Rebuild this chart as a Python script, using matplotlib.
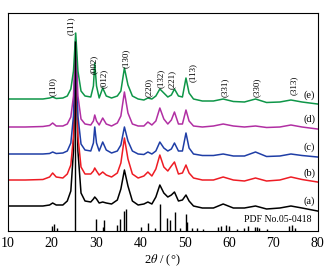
import numpy as np
import matplotlib
matplotlib.use("Agg")
import matplotlib.pyplot as plt

plt.rcParams['font.family'] = ['Liberation Serif', 'DejaVu Serif']
plt.rcParams['mathtext.fontset'] = 'stix'

# 2theta sample points shared by all patterns
two_theta = [10, 14, 18, 19.5, 20.2, 21, 22.5, 23.5, 24.3, 24.9, 25.4, 25.9, 26.6, 27.5,
             28.8, 29.4, 29.7, 30.1, 30.7, 31.5, 32.3, 33.5, 34.8, 35.6, 36.4, 37.2, 38.2,
             39.5, 40.8, 41.7, 42.6, 43.5, 44.4, 45.3, 46.2, 47.0, 47.7, 48.6, 49.5, 50.3,
             51.0, 52.0, 54.0, 56.5, 58.7, 61.0, 63.5, 66.0, 68.5, 71.5, 74.0, 76.5, 80]

# intensities (offset already included)
pat_a = [25, 25, 25, 26, 28, 26, 26, 30, 40, 80, 190, 80, 38, 30,
         29, 32, 34, 32, 28, 29, 28, 27, 31, 42, 61, 45, 30,
         26, 27, 29, 27, 34, 46, 38, 34, 36, 39, 30, 31, 36,
         30, 25, 23, 23, 27, 23, 23, 25, 22, 23, 25, 23, 20]
pat_b = [51, 51, 51.5, 54, 58, 54, 53, 57, 66, 95, 185, 95, 64, 57,
         57, 60, 63, 60, 56, 59, 56, 54, 58, 68, 93, 72, 57,
         53, 55, 59, 55, 62, 76, 64, 60, 65, 69, 57, 58, 66,
         58, 53, 51, 51, 54, 51, 50, 53, 50, 51, 54, 51.5, 49]
pat_c = [77, 77, 77, 77.5, 79, 77.5, 78, 80, 88, 115, 190, 115, 87, 81,
         80, 88, 104, 88, 80, 89, 81, 78, 80, 86, 104, 90, 80,
         77, 76.5, 79, 77, 80, 89, 83, 80, 82, 88, 80, 80, 98,
         83, 77, 75.5, 75.5, 77, 75, 75, 79, 74.5, 75, 77, 75.5, 74]
pat_d = [104, 104, 104.5, 105.5, 108, 105, 105, 107, 114, 135, 190, 135, 112, 107,
         106, 110, 116, 110, 106, 113, 107, 105, 108, 115, 139, 118, 107,
         105, 105, 109, 106, 110, 123, 112, 107, 111, 119, 107, 107, 121,
         110, 105, 104, 105, 107, 105, 104, 105, 103.5, 104, 106, 104, 102]
pat_e = [132, 132, 132, 133, 134, 132.5, 133, 135, 142, 160, 198, 160, 140, 135,
         134, 145, 168, 145, 133, 143, 135, 133, 135, 140, 163, 146, 135,
         132, 131, 133, 132, 135, 142, 138, 134, 136, 142, 135, 134, 153,
         138, 132, 130, 130, 132, 129.5, 129, 132, 128.5, 129, 131, 129, 127]

patterns = [pat_a, pat_b, pat_c, pat_d, pat_e]
pattern_names = ['(a)', '(b)', '(c)', '(d)', '(e)']
colors = ['#000000', '#ee1c24', '#1f3ea6', '#b12fa3', '#0e9648']

# PDF No.05-0418 reference lines
pdf_pos = [20.0, 20.4, 21.2, 25.3, 29.9, 31.5, 31.8, 34.8, 35.4, 36.4, 36.8, 40.1, 41.7,
           43.3, 44.5, 46.0, 46.8, 47.8, 49.0, 50.3, 50.6, 51.6, 52.8, 54.2, 57.6, 58.2,
           59.4, 60.1, 61.9, 63.4, 64.2, 65.8, 66.3, 66.7, 68.7, 73.5, 74.2, 75.0]
pdf_int = [5, 7, 3, 190, 12, 4, 11, 6, 12, 20, 22, 4, 8,
           3, 27, 13, 11, 19, 3, 17, 9, 3, 3, 2, 4, 5,
           6, 5, 2, 3, 5, 4, 4, 3, 2, 5, 6, 3]

hkl = ['(110)', '(111)', '(002)', '(012)', '(130)', '(220)', '(132)',
       '(221)', '(113)', '(331)', '(330)', '(313)']
hkl_x = [20.2, 24.3, 29.5, 31.8, 36.7, 41.8, 44.7, 47.1, 51.8, 59.0, 66.2, 74.6]
hkl_y = [144, 205, 167, 153, 173, 144, 153, 152, 159, 144, 144, 146]

fig = plt.figure(figsize=(3.3, 2.7), dpi=100)
ax = fig.add_axes([7.5 / 330, 1 - 231 / 270, 310 / 330, 218 / 270])

for pat, c in zip(patterns, colors):
    ax.plot(two_theta, pat, color=c, lw=1.1)

ax.vlines(pdf_pos, 0, pdf_int, color='black', lw=1.0)

for name, y in zip(pattern_names, [30, 58, 84, 112, 136]):
    ax.text(78.1, y, name, fontsize=7.5, ha='center', va='center')

for t, x, y in zip(hkl, hkl_x, hkl_y):
    ax.text(x, y, t, fontsize=6.5, rotation=90, ha='center', va='center')

ax.text(78.6, 12, 'PDF No.05-0418', fontsize=7, ha='right', va='center')

ax.set_xlim(10, 80)
ax.set_ylim(0, 218)
ax.set_xticks([10, 20, 30, 40, 50, 60, 70, 80])
ax.set_yticks([])
ax.tick_params(axis='x', length=0, pad=4, labelsize=10)
ax.set_xlabel(r'2$\it{\theta}$ / (°)', fontsize=9, labelpad=2)

plt.savefig('out.png', dpi=100)
